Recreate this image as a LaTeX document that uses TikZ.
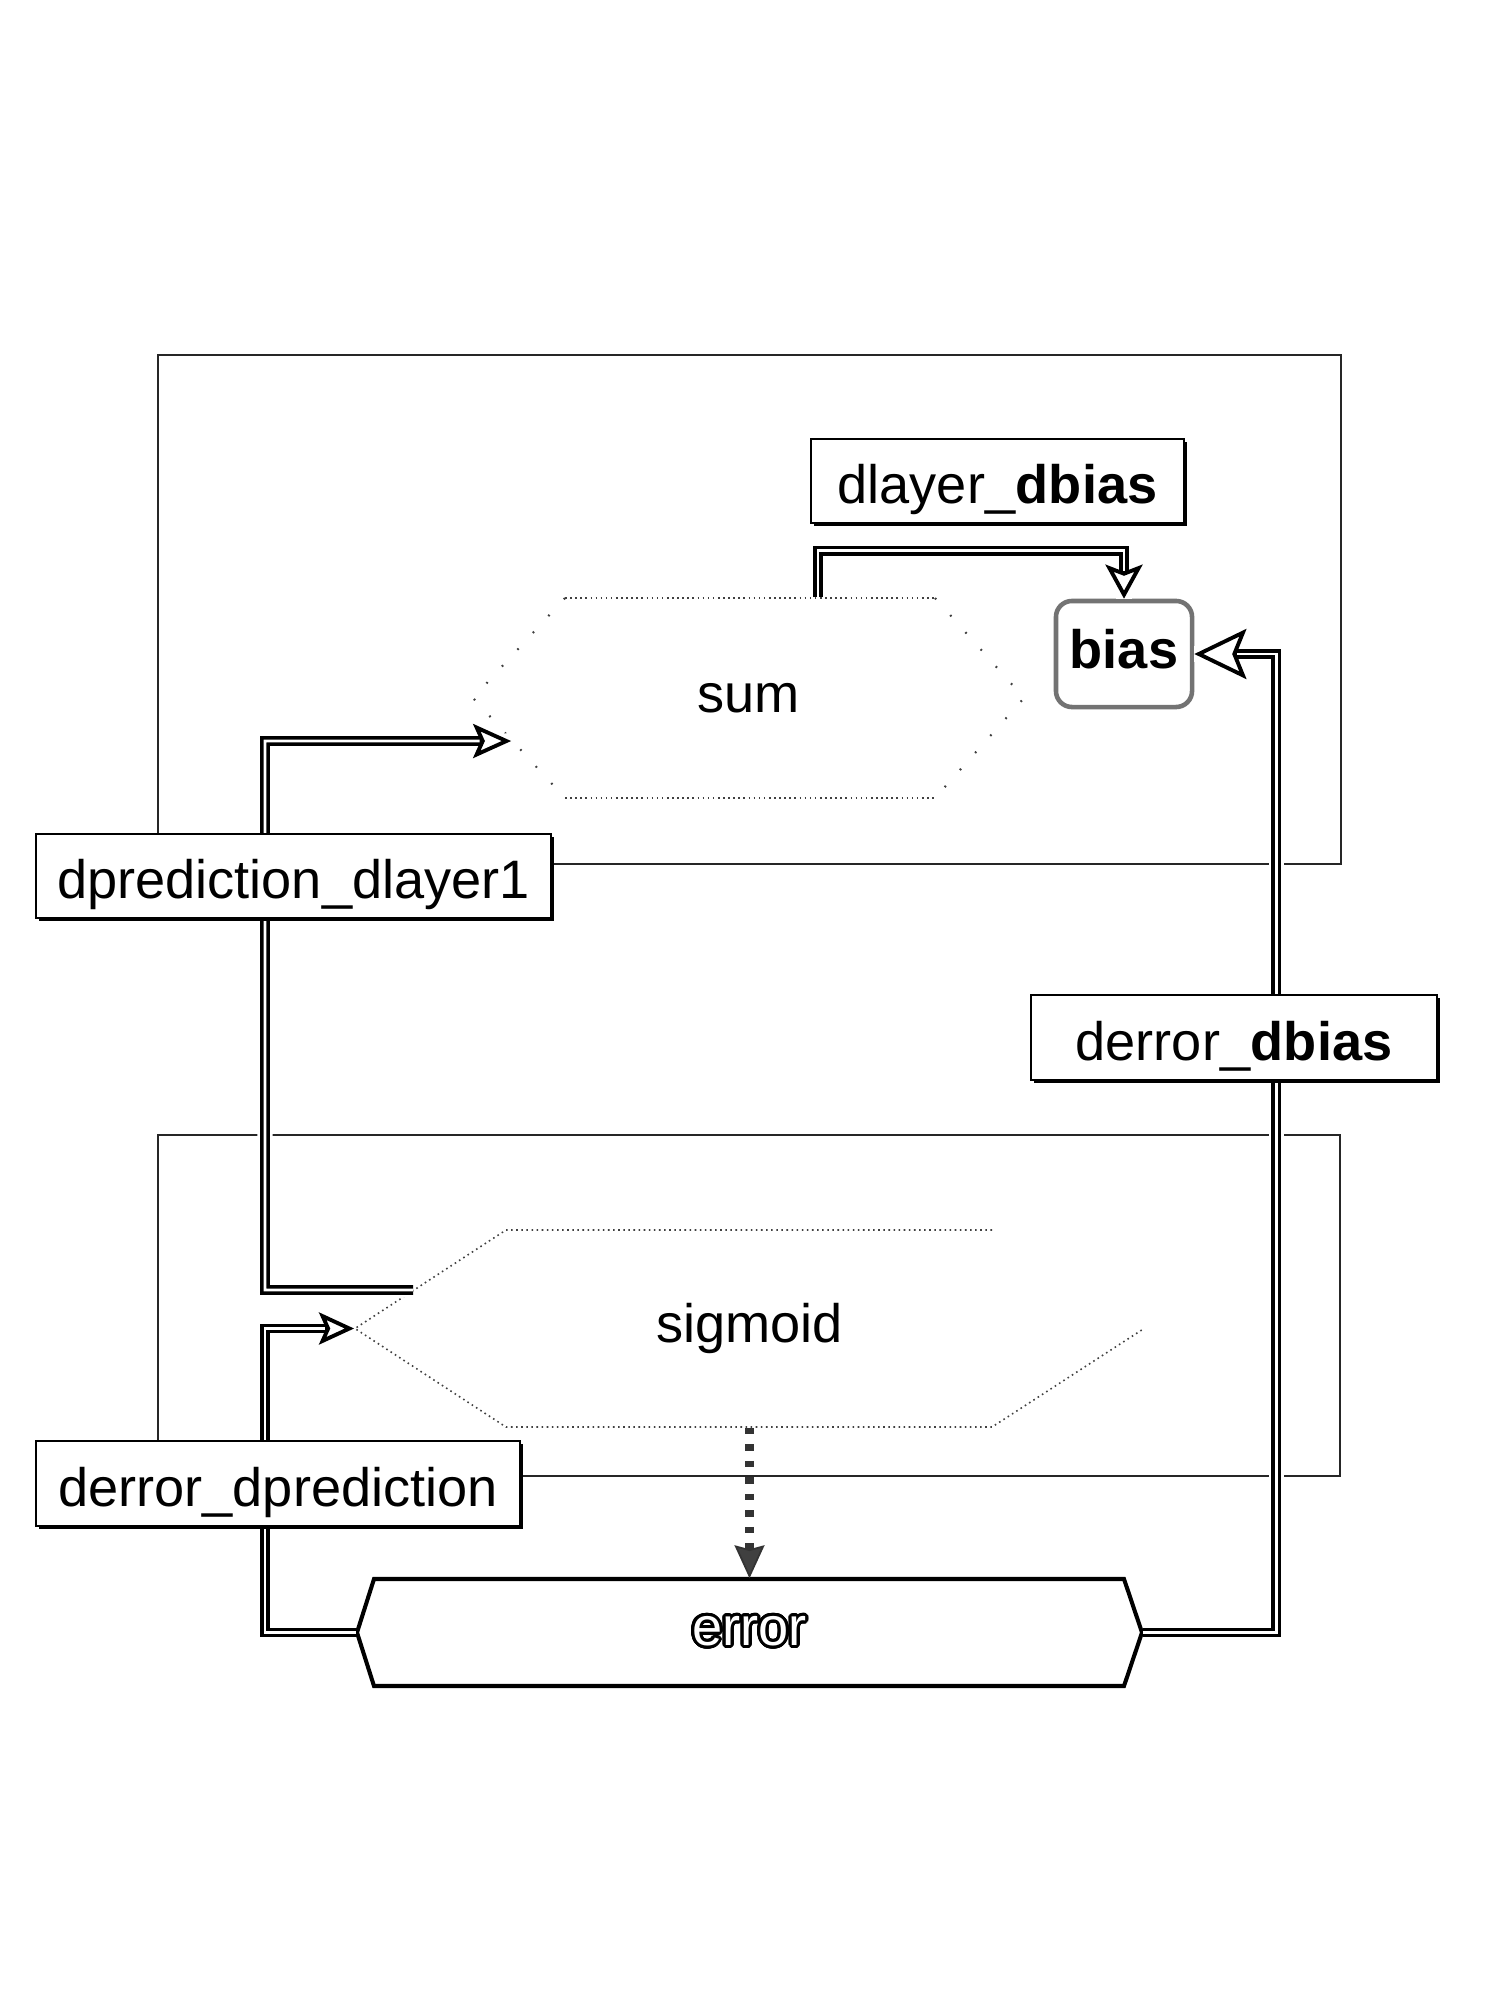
\documentclass[tikz,border=0pt]{standalone}
\usepackage{fontspec}
\setmainfont{Liberation Sans}
\usepackage{contour}
\contourlength{0.8pt}
\contournumber{32}
\usetikzlibrary{arrows.meta,shadows}
\begin{document}
\begin{tikzpicture}[x=0.01cm,y=-0.01cm,
  font=\fontsize{15.4}{18}\selectfont,
  cluster/.style={draw=black!85, line width=0.4pt},
  lbl/.style={draw=black, fill=white, line width=0.45pt, inner sep=0pt,
    text height=0.45cm, text depth=0cm,
    drop shadow={shadow xshift=0.03cm, shadow yshift=-0.03cm, fill=black, opacity=1}},
  plain/.style={inner sep=0pt},
  dotedge/.style={draw=black!75, line width=0.45pt, densely dotted},
  sparse/.style={draw=black!75, line width=0.6pt, dash pattern=on 0.5pt off 6pt},
  dbl/.style={draw=black, line width=2.8pt,
    preaction={draw=white, line width=4.4pt, -},
    postaction={draw=white, line width=0.8pt, -, shorten >=#1}},
  dashedge/.style={draw=black!80, line width=2.3pt, dash pattern=on 0.065cm off 0.1cm,
    -{Stealth[length=0.33cm, width=0.30cm, inset=0.04cm, fill=black!75, line width=0.5pt]}}
]
\useasboundingbox (0,0) rectangle (1500,2000);
\fill[white] (0,0) rectangle (1500,2000);

% clusters
\draw[cluster] (158,355) rectangle (1341,864);
\draw[cluster] (158,1135) rectangle (1340,1476);

% sum
\node[plain, minimum width=5.51cm, minimum height=2cm] (sum) at (748.5,698) {sum};
\draw[dotedge] (565,598) -- (935,598);
\draw[dotedge] (565,798) -- (935,798);
\draw[sparse] (565,598) -- (473,698) -- (565,798);
\draw[sparse] (935,598) -- (1024,698) -- (935,798);

% sigmoid
\node[plain, minimum width=7.89cm, minimum height=1.97cm] (sigmoid) at (749.5,1328.5) {sigmoid};
\draw[dotedge] (992,1230) -- (506,1230) -- (355,1328.5) -- (506,1427) -- (992,1427) -- (1144,1328.5);

% error
\node[plain, minimum width=7.85cm, minimum height=1.07cm] (error) at (749.5,1632.5)
  {{\color{white}\contour{black}{error}}};
\draw[black, line width=1.15pt, line join=miter]
  (357,1632.5) -- (374,1579) -- (1124,1579) -- (1142,1632.5) -- (1124,1686) -- (374,1686) -- cycle;

% bias
\node[draw=black!55, line width=1.3pt, rounded corners=0.16cm, fill=white,
  minimum width=1.36cm, minimum height=1.06cm, inner sep=0pt,
  text height=0.39cm, text depth=0.10cm] (bias) at (1124,654) {\bfseries bias};

% edges
\draw[dbl=0.28cm, -{Stealth[open, length=0.34cm, width=0.37cm, inset=0.07cm, line width=1.1pt]}]
  ([xshift=0.695cm]sum.north) |- ([yshift=0.48cm]bias.north) -- (bias.north);
\draw[dbl=0.43cm, -{Stealth[open, length=0.52cm, width=0.50cm, inset=0.10cm, line width=1.1pt]}]
  (error.east) -| ([xshift=0.82cm]bias.east) -- (bias.east);
\draw[dbl=0.315cm, -{Stealth[open, length=0.38cm, width=0.34cm, inset=0.075cm, line width=1.1pt]}]
  ([xshift=0.59cm,yshift=0.385cm]sigmoid.west) -| (265,741) -- ([xshift=0.39cm,yshift=-0.43cm]sum.west);
\draw[dbl=0.29cm, -{Stealth[open, length=0.35cm, width=0.32cm, inset=0.07cm, line width=1.1pt]}]
  (error.west) -| (265,1328.5) -- (sigmoid.west);
\draw[dashedge] (sigmoid.south) -- (error.north);

% edge labels
\node[lbl, minimum width=3.73cm, minimum height=0.84cm] (l1) at (997.5,481) {dlayer\_\textbf{dbias}};
\node[lbl, minimum width=5.15cm, minimum height=0.84cm] (l3) at (293.5,876) {dprediction\_dlayer1};
\node[lbl, minimum width=4.06cm, minimum height=0.85cm] (l2) at (1234,1037.5) {derror\_\textbf{dbias}};
\node[lbl, minimum width=4.84cm, minimum height=0.85cm] (l4) at (278,1483.5) {derror\_dprediction};
\end{tikzpicture}
\end{document}
